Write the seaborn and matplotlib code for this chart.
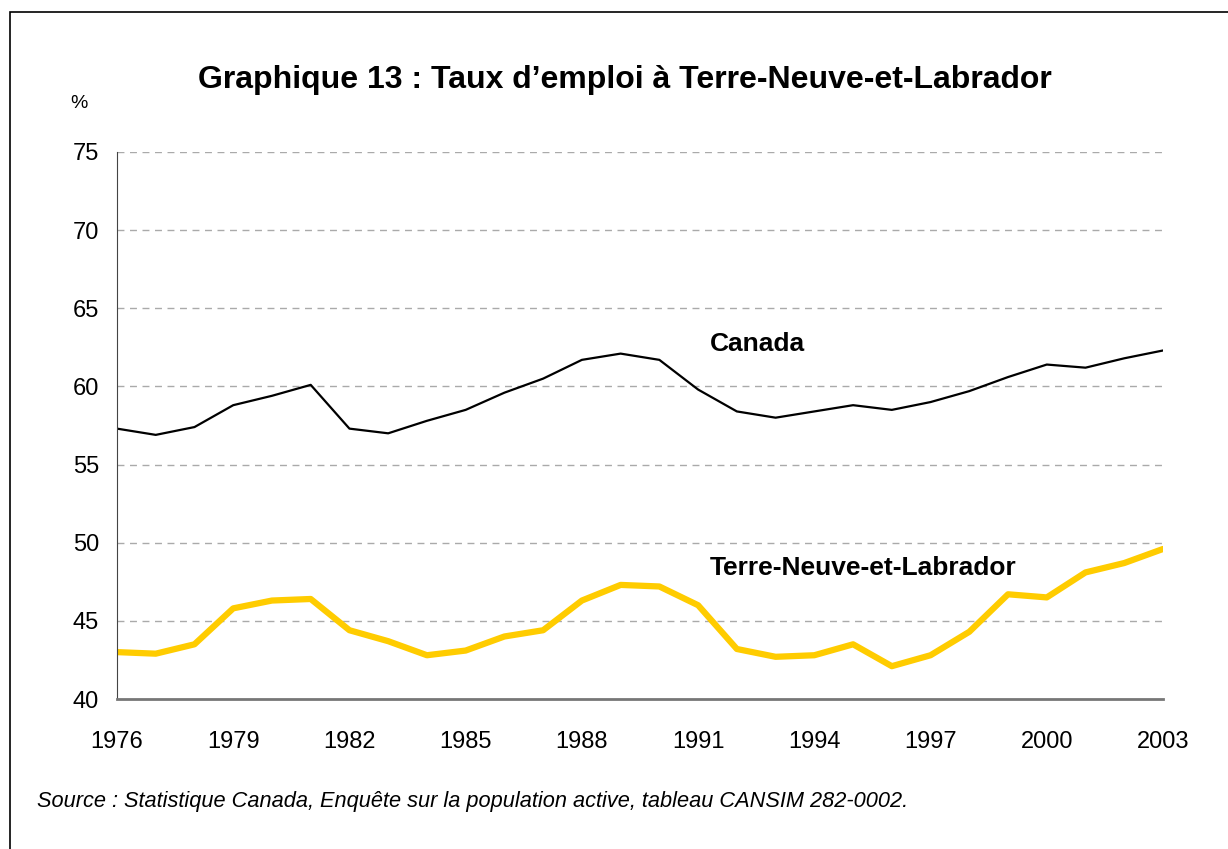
# Import modules.

import pandas as pd
import matplotlib
matplotlib.use('Agg')
import matplotlib.pyplot as plt
from matplotlib.patches import Rectangle
import seaborn as sns

# Data.

years = list(range(1976, 2004))
canada = [57.3, 56.9, 57.4, 58.8, 59.4, 60.1, 57.3, 57.0, 57.8, 58.5,
          59.6, 60.5, 61.7, 62.1, 61.7, 59.8, 58.4, 58.0, 58.4, 58.8,
          58.5, 59.0, 59.7, 60.6, 61.4, 61.2, 61.8, 62.3]
tnl = [43.0, 42.9, 43.5, 45.8, 46.3, 46.4, 44.4, 43.7, 42.8, 43.1,
       44.0, 44.4, 46.3, 47.3, 47.2, 46.0, 43.2, 42.7, 42.8, 43.5,
       42.1, 42.8, 44.3, 46.7, 46.5, 48.1, 48.7, 49.6]
y_ticks = [40, 45, 50, 55, 60, 65, 70, 75]
x_labels = [1976, 1979, 1982, 1985, 1988, 1991, 1994, 1997, 2000, 2003]

df = pd.DataFrame({'Année': years, 'Canada': canada, 'TNL': tnl})

# Style.

sns.set_style('white')
plt.rcParams['font.family'] = ['Liberation Sans', 'DejaVu Sans']
plt.rcParams['text.color'] = 'black'
plt.rcParams['xtick.labelcolor'] = 'black'
plt.rcParams['ytick.labelcolor'] = 'black'

fig = plt.figure(figsize=(12.28, 8.49), dpi=100)
ax = fig.add_axes([117 / 1228, 1 - 699 / 849, (1163 - 117) / 1228, (699 - 152) / 849])

# Gridlines first.

for v in y_ticks[1:]:
    ax.axhline(v, color='#aaaaaa', lw=1, ls=(0, (5, 4)), zorder=0)

sns.lineplot(data=df, x='Année', y='Canada', ax=ax, color='black', lw=1.6)
sns.lineplot(data=df, x='Année', y='TNL', ax=ax, color='#FFCC00', lw=4.5,
             solid_capstyle='round')

ax.set_xlim(1976, 2003)
ax.set_ylim(40, 75)
ax.set_yticks(y_ticks)
ax.set_xticks(years)
ax.set_xticklabels([str(y) if y in x_labels else '' for y in years])
ax.set_xlabel('')
ax.set_ylabel('')

for side in ['top', 'right']:
    ax.spines[side].set_visible(False)
ax.spines['left'].set_color('#444444')
ax.spines['bottom'].set_color('#777777')
ax.spines['bottom'].set_linewidth(2)
ax.tick_params(axis='x', direction='out', length=5, width=1, color='#555555',
               pad=18, labelsize=17)
ax.tick_params(axis='y', direction='out', length=7, width=1.2, color='#333333',
               pad=6, labelsize=17)

# Annotations.

ax.text(1991.3, 62.7, 'Canada', fontsize=19, fontweight='bold', va='center')
ax.text(1991.3, 48.4, 'Terre-Neuve-et-Labrador', fontsize=19,
        fontweight='bold', va='center')

fig.text(625 / 1228, 1 - 80 / 849, 'Graphique 13 : Taux d\u2019emploi à Terre-Neuve-et-Labrador',
         ha='center', va='center', fontsize=23, fontweight='bold')
fig.text(79 / 1228, 1 - 103 / 849, '%', ha='center', va='center', fontsize=14)
fig.text(37 / 1228, 1 - 801 / 849,
         'Source : Statistique Canada, Enquête sur la population active, tableau CANSIM 282-0002.',
         ha='left', va='center', fontsize=15.7, style='italic')

# Frame around the figure.

fig.add_artist(Rectangle((10 / 1228, -0.1), 1.1, 1.1 - 12 / 849,
                         transform=fig.transFigure, fill=False,
                         edgecolor='black', lw=1.2))

fig.savefig('out.png', dpi=100)
